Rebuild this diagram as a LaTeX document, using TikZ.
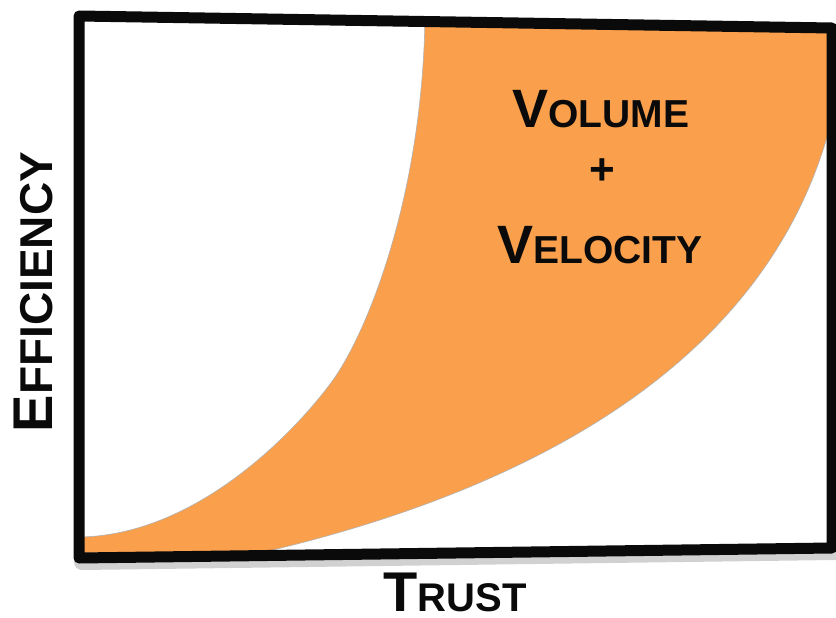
\documentclass[tikz,border=0pt]{standalone}
\usepackage{fontspec}
\setmainfont{Liberation Sans}
\usetikzlibrary{calc}
\definecolor{trorange}{HTML}{FA9F4B}
\definecolor{trink}{HTML}{0A0A0A}
\newcommand{\capword}[4]{{\fontsize{#1}{#1}\selectfont #3}{\fontsize{#2}{#2}\selectfont #4}}
\tikzset{
  chartframe/.style={draw=trink,line width=11pt,line join=round},
  frameshadow/.style={draw=black,opacity=0.18,line width=16pt,line join=round},
  zone/.style={fill=trorange,draw=black!30,line width=0.6pt},
  biglabel/.style={font=\bfseries,text=trink,inner sep=0pt,anchor=base},
}

\begin{document}
\begin{tikzpicture}[x=1pt,y=-1pt]
  \useasboundingbox (0,0) rectangle (836,618);
  \coordinate (tl) at (79,16);
  \coordinate (tr) at (832,28);
  \coordinate (br) at (832,548);
  \coordinate (bl) at (79,558);
  \draw[frameshadow] ($(tl)+(3,4)$) -- ($(tr)+(3,4)$) -- ($(br)+(3,4)$) -- ($(bl)+(3,4)$) -- cycle;
  \fill[white] (tl) -- (tr) -- (br) -- (bl) -- cycle;
  \draw[zone] (80,537) .. controls (200,535) and (300,426) .. (333,380)
    .. controls (366,334) and (422,200) .. (425,18) -- (834,26) -- (834,110)
    .. controls (776,365) and (523,492) .. (260,553) -- (80,553) -- cycle;
  \draw[chartframe] (tl) -- (tr) -- (br) -- (bl) -- cycle;
  \node[biglabel] (vol) at (601,128) {\capword{54}{39}{V}{OLUME}};
  \node[biglabel] (plus) at (602,184) {\fontsize{44}{44}\selectfont +};
  \node[biglabel] (vel) at (600,263) {\capword{54}{39}{V}{ELOCITY}};
  \node[biglabel,rotate=90] (eff) at (52,292) {\capword{56}{46}{E}{FFICIENCY}};
  \node[biglabel] (trust) at (455,611) {\capword{56}{40}{T}{RUST}};
\end{tikzpicture}
\end{document}
